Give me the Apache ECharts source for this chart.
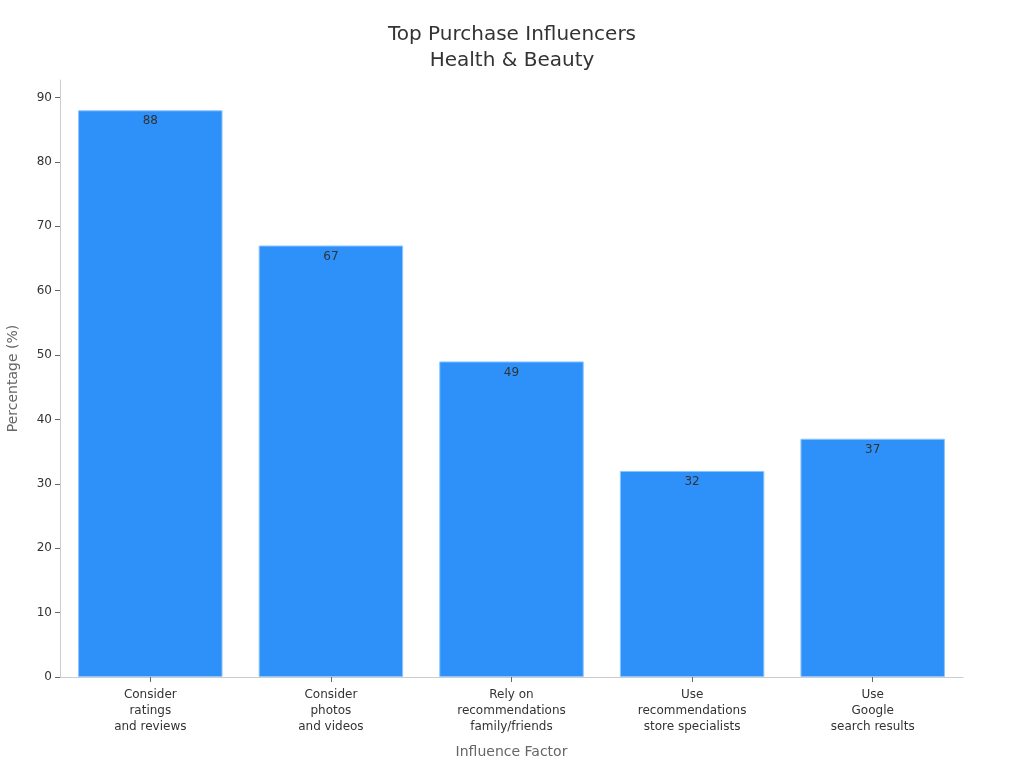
<!DOCTYPE html>
<html>
<head>
<meta charset="utf-8">
<script src="https://cdn.jsdelivr.net/npm/echarts@6/dist/echarts.min.js"></script>
<style>
  html, body { margin: 0; padding: 0; background: #fff; }
  #chart { width: 1024px; height: 768px; }
</style>
</head>
<body>
<div id="chart"></div>
<script>
const categories = [
	"Consider\nratings\nand reviews",
	"Consider\nphotos\nand videos",
	"Rely on\nrecommendations\nfamily/friends",
	"Use\nrecommendations\nstore specialists",
	"Use\nGoogle\nsearch results"
];
const percentages = [88, 67, 49, 32, 37];
const yTicks = [0, 10, 20, 30, 40, 50, 60, 70, 80, 90];

const initChart = () => {
	const myChart = echarts.init(document.getElementById("chart"));
	myChart.setOption({
		textStyle: { fontFamily: "DejaVu Sans" },
		title: {
			text: "Top Purchase Influencers\nHealth & Beauty",
			left: "center",
			top: 17,
			textStyle: { fontSize: 20, fontWeight: "normal", color: "#333", lineHeight: 26 }
		},
		grid: { left: 60, right: 61, top: 80, bottom: 91, outerBoundsMode: "none", containLabel: false },
		xAxis: {
			type: "category",
			data: categories,
			name: "Influence Factor",
			nameLocation: "middle",
			nameGap: 68,
			nameTextStyle: { fontSize: 14, color: "#666" },
			axisLine: { lineStyle: { color: "#ccc" } },
			axisTick: { show: true, alignWithLabel: true, length: 5, lineStyle: { color: "#666" } },
			axisLabel: { fontSize: 12, color: "#333", lineHeight: 16, margin: 10 }
		},
		yAxis: {
			type: "value",
			min: 0,
			max: 92.7,
			name: "Percentage (%)",
			nameLocation: "middle",
			nameGap: 40,
			nameTextStyle: { fontSize: 14, color: "#666" },
			axisLine: { show: true, lineStyle: { color: "#ccc" } },
			axisTick: { show: true, customValues: yTicks, length: 5, lineStyle: { color: "#666" } },
			axisLabel: { fontSize: 12, color: "#333", customValues: yTicks },
			splitLine: { show: false }
		},
		series: [{
			type: "bar",
			data: percentages,
			barWidth: "80%",
			itemStyle: { color: "#2E91FA", borderColor: "#8EC5FF", borderWidth: 1 },
			label: {
				show: true,
				position: "insideTop",
				color: "#333",
				fontSize: 12
			}
		}]
	});
	myChart.resize();
};

window.addEventListener("load", () => {
	initChart();
});
</script>
</body>
</html>
